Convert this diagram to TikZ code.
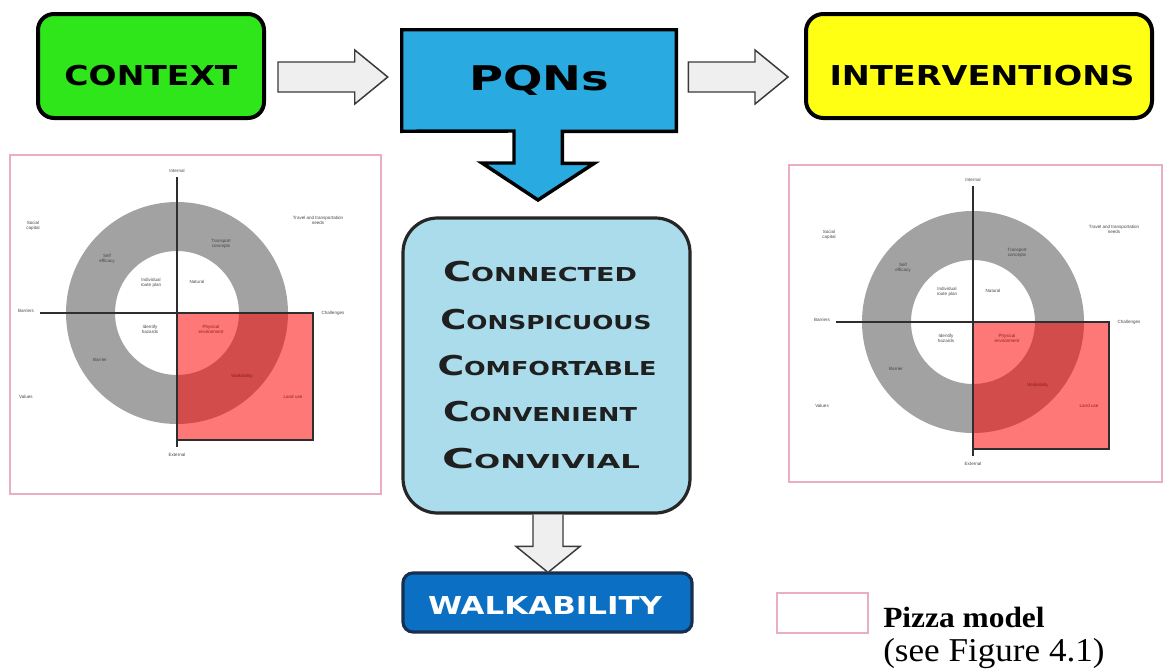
\documentclass[tikz,border=0pt]{standalone}
\usepackage{fontspec}
\usepackage{graphicx}
\setmainfont{Liberation Serif}
\newfontfamily\hdfont{DejaVu Sans}
\newfontfamily\smfont{Liberation Sans}
\usetikzlibrary{calc}
\definecolor{ctxgreen}{HTML}{2EE61A}
\definecolor{pqnblue}{HTML}{29ABE2}
\definecolor{intyellow}{HTML}{FFFF14}
\definecolor{cbblue}{HTML}{ABDCEC}
\definecolor{walkblue}{HTML}{0B70C4}
\definecolor{walkborder}{HTML}{17304F}
\definecolor{hollowfill}{HTML}{EFEFEF}
\definecolor{hollowline}{HTML}{3A3A3A}
\definecolor{pinkframe}{HTML}{E9AEC3}
\definecolor{ringgrey}{HTML}{A2A2A2}
\definecolor{pzline}{HTML}{2E2E2E}
\definecolor{pztext}{HTML}{454545}
\definecolor{pzred}{HTML}{8E1F1F}
\newcommand\hdtxt[3]{\resizebox{#1}{\height}{\hdfont\bfseries\fontsize{#2}{#2}\selectfont #3}}
\newcommand\scw[3]{\resizebox{#1}{\height}{\hdfont\bfseries\fontsize{20.5pt}{20.5pt}\selectfont #2\fontsize{14.4pt}{14.4pt}\selectfont #3}}
\tikzset{
  topbox/.style={draw=black, line width=3pt, inner sep=0pt},
  hollow/.style={fill=hollowfill, draw=hollowline, line width=1.1pt, line join=miter},
  frame/.style={draw=pinkframe, line width=1.1pt},
  plab/.style={font=\smfont\fontsize{3.4pt}{3.9pt}\selectfont, text=pztext, align=center, inner sep=0pt},
  rlab/.style={plab, text=pzred},
  cword/.style={text=black!88, inner sep=0pt},
}
\newcommand\pizzamodel[1]{%
\begin{scope}[shift={(#1)}]
  \fill[ringgrey, even odd rule] (0,0) circle[radius=111] (0,0) circle[radius=62];
  \fill[red, opacity=0.53] (0,0) rectangle (136,127);
  \draw[pzline, line width=0.9pt] (0,0) rectangle (136,127);
  \draw[pzline, line width=1.1pt] (0,-136) -- (0,134);
  \draw[pzline, line width=1.1pt] (-137,0) -- (136,0);
  \node[plab] at (0,-142) {Internal};
  \node[plab] at (0,142) {External};
  \node[plab] at (-151,-2) {Barriers};
  \node[plab] at (156,0) {Challenges};
  \node[plab] at (-144,-87) {Social\\capital};
  \node[plab] at (141,-93) {Travel and transportation\\needs};
  \node[plab] at (-70,-54) {Self\\efficacy};
  \node[plab] at (44,-69) {Transport\\concepts};
  \node[plab] at (-26,-30) {Individual\\route plan};
  \node[plab] at (20,-31) {Natural};
  \node[plab] at (-27,16) {Identify\\hazards};
  \node[rlab] at (34,16) {Physical\\environment};
  \node[plab] at (-77,47) {Barrier};
  \node[rlab] at (65,63) {Walkability};
  \node[rlab] at (116,84) {Land use};
  \node[plab] at (-151,84) {Values};
\end{scope}}
\begin{document}
\begin{tikzpicture}[x=0.75pt, y=-0.75pt]
\path[use as bounding box, fill=white] (0,0) rectangle (1166,671);

% top boxes
\node[topbox, fill=ctxgreen, rounded corners=12pt, minimum width=169.5pt, minimum height=78pt] (ctx) at (151,66) {};
\node (ctxt) at (151,76) {\hdtxt{129.75pt}{20.5pt}{CONTEXT}};
\node[topbox, fill=intyellow, rounded corners=13pt, minimum width=259.5pt, minimum height=78pt] (int) at (979,66) {};
\node (intt) at (982,76) {\hdtxt{228.75pt}{20.5pt}{INTERVENTIONS}};

% PQNs shape with down arrow
\coordinate (pqnc) at (539,80.5);
\node[minimum width=205.5pt, minimum height=75.75pt, inner sep=0pt] (pqn) at (pqnc) {};
\draw[fill=pqnblue, draw=black, line width=2.6pt, line join=miter]
  (pqn.north west) -- (pqn.north east) -- (pqn.south east) -- ++(-114,0) -- ++(0,32) -- ++(32,0)
  -- (538,200) coordinate (pqntip) -- (482,163) -- ++(32,0) -- ++(0,-32) -- (pqn.south west) -- cycle;
\node (pqnt) at (pqnc) {\hdtxt{105pt}{25.5pt}{PQNs}};

% hollow horizontal arrows
\coordinate (a1s) at ($(ctx.east)+(12,11)$);
\coordinate (a1t) at ($(pqn.west)+(-14,-3.5)$);
\coordinate (a2s) at ($(pqn.east)+(12,-3.5)$);
\coordinate (a2t) at ($(int.west)+(-16,11)$);
\draw[hollow] ($(a1s)+(0,-15)$) -- ($(a1t)+(-33,-15)$) -- ($(a1t)+(-33,-27)$) -- (a1t)
  -- ($(a1t)+(-33,27)$) -- ($(a1t)+(-33,15)$) -- ($(a1s)+(0,15)$) -- cycle;
\draw[hollow] ($(a2s)+(0,-15)$) -- ($(a2t)+(-33,-15)$) -- ($(a2t)+(-33,-27)$) -- (a2t)
  -- ($(a2t)+(-33,27)$) -- ($(a2t)+(-33,15)$) -- ($(a2s)+(0,15)$) -- cycle;

% pizza frames
\draw[frame] (10,155) rectangle (381,494);
\draw[frame] (789,165) rectangle (1162,482);
\pizzamodel{177,313}
\pizzamodel{973,322}

% centre box
\node[draw=black!85, line width=2.4pt, fill=cbblue, rounded corners=26pt, minimum width=215.25pt, minimum height=221.25pt] (cb) at (546.5,365.5) {};
\node[cword] (w1) at (540,272) {\scw{145.5pt}{C}{ONNECTED}};
\node[cword] (w2) at (546,320) {\scw{158.25pt}{C}{ONSPICUOUS}};
\node[cword] (w3) at (547,366) {\scw{164.25pt}{C}{OMFORTABLE}};
\node[cword] (w4) at (540,412) {\scw{145.5pt}{C}{ONVENIENT}};
\node[cword] (w5) at (541,459) {\scw{148.5pt}{C}{ONVIVIAL}};

% walkability box
\node[draw=walkborder, line width=2.4pt, fill=walkblue, rounded corners=7.5pt, minimum width=216.75pt, minimum height=44.25pt] (walk) at (547.5,602.5) {};
\node[text=white] (walkt) at (545,605) {\hdtxt{175.5pt}{18.5pt}{WALKABILITY}};

% down hollow arrow
\coordinate (ds) at ($(cb.south)+(1.5,0)$);
\coordinate (dt) at ($(walk.north)+(0.5,1)$);
\draw[hollow] ($(ds)+(-15,0)$) -- ($(dt)+(-15,-26)$) -- ($(dt)+(-32,-26)$) -- (dt)
  -- ($(dt)+(32,-26)$) -- ($(dt)+(15,-26)$) -- ($(ds)+(15,0)$);

% legend
\draw[frame] (777,593) rectangle (868,633);
\node[anchor=base west, inner sep=0pt] (leg1) at (883,627) {\resizebox{121pt}{\height}{\bfseries\fontsize{22pt}{22pt}\selectfont Pizza model}};
\node[anchor=base west, inner sep=0pt] (leg2) at (883,661) {\resizebox{166pt}{\height}{\fontsize{25pt}{25pt}\selectfont (see Figure 4.1)}};
\end{tikzpicture}
\end{document}
